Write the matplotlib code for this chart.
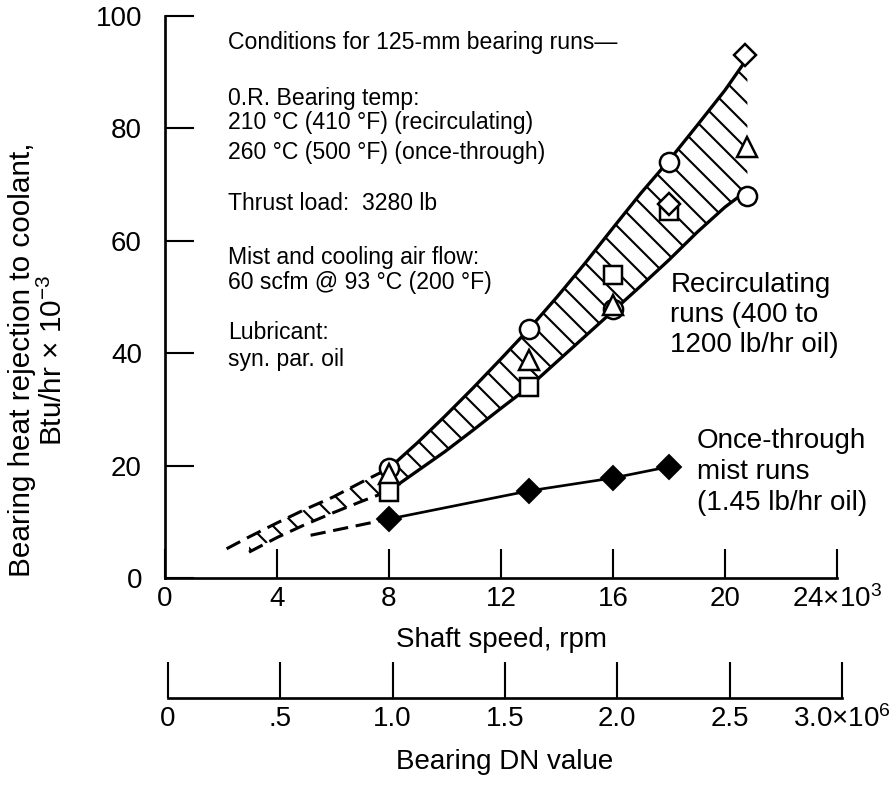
import numpy as np
import matplotlib.pyplot as plt

plt.rcParams['font.family'] = ['Liberation Sans', 'DejaVu Sans']
plt.rcParams['mathtext.fontset'] = 'custom'
plt.rcParams['mathtext.rm'] = 'Liberation Sans'
plt.rcParams['mathtext.it'] = 'Liberation Sans:italic'
plt.rcParams['hatch.linewidth'] = 1.1

# shaft speed in 10^3 rpm, heat rejection in Btu/hr x 10^-3
band_x = [8, 9, 10, 11, 12, 13, 14, 15, 16, 17, 18, 19, 20, 20.8]
band_upper = [19.5, 24.0, 28.8, 33.8, 39.0, 44.3, 50.0, 56.0, 62.3, 68.5, 74.3, 80.5, 86.8, 92.5]
band_lower = [15.5, 19.0, 22.5, 26.3, 30.2, 34.0, 38.5, 43.0, 47.5, 52.0, 56.6, 61.5, 66.0, 69.0]

# dashed extrapolation of the band
dash_x = [3, 4, 5, 6, 7, 8]
dash_upper = [7.3, 9.8, 12.2, 14.4, 17.0, 19.5]
dash_lower = [4.6, 7.2, 9.5, 11.6, 13.6, 15.5]
dash_upper_start = (2.2, 5.2)

# recirculating run points
circle_x = [8, 13, 16, 18, 20.8]
circle_y = [19.5, 44.3, 47.8, 74.0, 68.0]
triangle_x = [8, 13, 16, 20.8]
triangle_y = [18.5, 38.8, 48.6, 76.7]
square_x = [8, 13, 16, 18]
square_y = [15.3, 34.0, 54.0, 65.3]
diamond_x = [18, 20.7]
diamond_y = [66.5, 93.0]

# once-through mist runs
once_x = [8, 13, 16, 18]
once_y = [10.5, 15.5, 17.8, 19.8]
once_dash_x = [5.2, 8]
once_dash_y = [7.6, 10.5]

rpm_ticks = [0, 4, 8, 12, 16, 20, 24]
rpm_labels = ['0', '4', '8', '12', '16', '20', '24×10$^3$']
y_ticks = [0, 20, 40, 60, 80, 100]
dn_ticks = [0, 0.5, 1.0, 1.5, 2.0, 2.5, 3.0]
dn_labels = ['0', '.5', '1.0', '1.5', '2.0', '2.5', '3.0×10$^6$']

conditions = [
    ("Conditions for 125-mm bearing runs—", 95.2),
    ("0.R. Bearing temp:", 85.4),
    ("210 °C (410 °F) (recirculating)", 81.0),
    ("260 °C (500 °F) (once-through)", 75.8),
    ("Thrust load:  3280 lb", 66.7),
    ("Mist and cooling air flow:", 57.1),
    ("60 scfm @ 93 °C (200 °F)", 52.5),
    ("Lubricant:", 43.6),
    ("syn. par. oil", 38.8),
]

big = 14.5
dpi = 138
fig = plt.figure(figsize=(890 / dpi, 785 / dpi), dpi=dpi)
ax = fig.add_axes([165 / 890, 1 - 578 / 785, 672 / 890, 562 / 785])
ax.set_xlim(0, 24)
ax.set_ylim(0, 100)

# hatched band
ax.fill_between(band_x, band_lower, band_upper, facecolor='none', edgecolor='black',
                linewidth=0, hatch='\\\\')
ax.plot(band_x, band_upper, color='black', lw=1.7, zorder=3)
ax.plot(band_x, band_lower, color='black', lw=1.7, zorder=3)

ax.fill_between(dash_x, dash_lower, dash_upper, facecolor='none', edgecolor='black',
                linewidth=0, hatch='\\\\')
ax.plot([dash_upper_start[0]] + dash_x, [dash_upper_start[1]] + dash_upper, color='black',
        lw=1.6, ls=(0, (5, 2.5)), zorder=3)
ax.plot(dash_x, dash_lower, color='black', lw=1.6, ls=(0, (5, 2.5)), zorder=3)

# once-through
ax.plot(once_dash_x, once_dash_y, color='black', lw=1.6, ls=(0, (5, 2.5)), zorder=3)
ax.plot(once_x, once_y, color='black', lw=1.4, marker='D', ms=9, mfc='black', mec='black',
        zorder=4, clip_on=False)

mk = dict(ls='none', mfc='white', mec='black', mew=1.3, zorder=5, clip_on=False)
ax.plot(circle_x, circle_y, marker='o', ms=10, **mk)
ax.plot(triangle_x, triangle_y, marker='^', ms=10, **mk)
ax.plot(square_x, square_y, marker='s', ms=9, **mk)
ax.plot(diamond_x, diamond_y, marker='D', ms=8, **mk)

for txt, yv in conditions:
    ax.text(2.25, yv, txt, fontsize=12, ha='left', va='center')

ax.text(18.05, 46.8, "Recirculating\nruns (400 to\n1200 lb/hr oil)", fontsize=big,
        ha='left', va='center', linespacing=1.22)
ax.text(19.0, 18.9, "Once-through\nmist runs\n(1.45 lb/hr oil)", fontsize=big,
        ha='left', va='center', linespacing=1.26, clip_on=False)

for s in ['top', 'right']:
    ax.spines[s].set_visible(False)
ax.spines['left'].set_bounds(0, 100)
ax.spines['bottom'].set_bounds(0, 24)
for s in ['left', 'bottom']:
    ax.spines[s].set_linewidth(1.4)

ax.set_xticks(rpm_ticks)
ax.set_xticklabels(rpm_labels)
ax.set_yticks(y_ticks)
ax.tick_params(axis='both', direction='in', length=15, width=1.1, labelsize=big)
ax.tick_params(axis='x', pad=4)
ax.tick_params(axis='y', pad=12)

ax.set_xlabel("Shaft speed, rpm", fontsize=big, va='center')
ax.xaxis.set_label_coords(0.5, (578 - 640) / 562)
ax.set_ylabel("Bearing heat rejection to coolant,\nBtu/hr × 10$^{-3}$", fontsize=15.5,
              va='center', linespacing=1.1)
ax.yaxis.set_label_coords((38 - 165) / 672, (578 - 360) / 562)

# DN value scale
ax2 = fig.add_axes([168 / 890, 1 - 698 / 785, 674 / 890, 38 / 785])
ax2.set_facecolor('none')
ax2.set_xlim(0, 3.0)
ax2.set_ylim(0, 1)
for s in ['top', 'right', 'left']:
    ax2.spines[s].set_visible(False)
ax2.spines['bottom'].set_linewidth(1.4)
ax2.set_yticks([])
ax2.set_xticks(dn_ticks)
ax2.set_xticklabels(dn_labels)
ax2.tick_params(axis='x', direction='in', length=19, width=1.1, labelsize=big, pad=4)
ax2.set_xlabel("Bearing DN value", fontsize=big, va='center')
ax2.xaxis.set_label_coords(0.5, (698 - 762) / 38)

fig.savefig('out.png', dpi=dpi)
